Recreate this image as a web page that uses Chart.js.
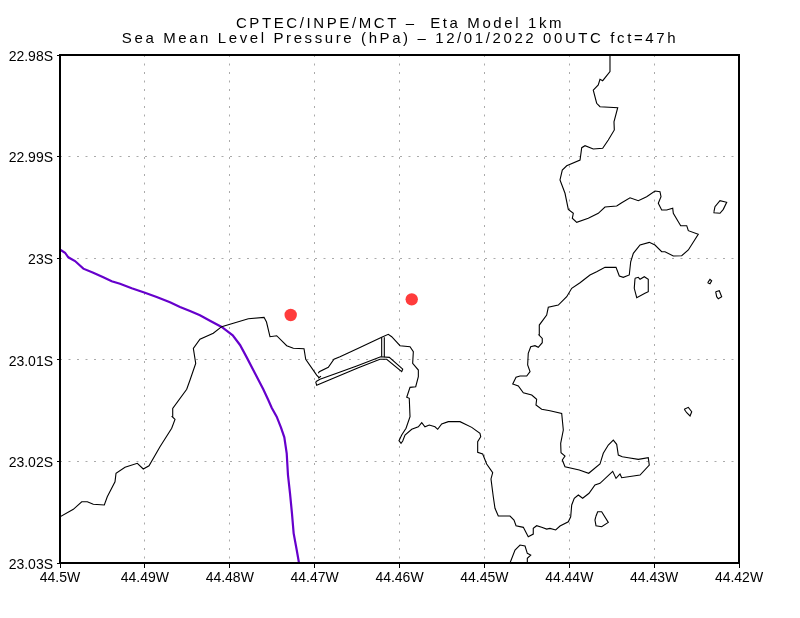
<!DOCTYPE html>
<html>
<head>
<meta charset="utf-8">
<style>
  html, body { margin: 0; padding: 0; background: #fff; }
  canvas { display: block; }
</style>
<script src="https://cdn.jsdelivr.net/npm/chart.js@4"></script>
</head>
<body>
<canvas id="mapa" width="800" height="618"></canvas>
<script>
const tituloLineas = ['CPTEC/INPE/MCT \u2013  Eta Model 1km', 'Sea Mean Level Pressure (hPa) \u2013 12/01/2022 00UTC fct=47h'];

const lonTicks = [-44.5, -44.49, -44.48, -44.47, -44.46, -44.45, -44.44, -44.43, -44.42];
const lonLabels = ['44.5W', '44.49W', '44.48W', '44.47W', '44.46W', '44.45W', '44.44W', '44.43W', '44.42W'];
const latTicks = [22.98, 22.99, 23, 23.01, 23.02, 23.03];
const latLabels = ['22.98S', '22.99S', '23S', '23.01S', '23.02S', '23.03S'];

// [lon, lat]
const estaciones = [[-44.47282, 23.00559], [-44.45856, 23.00405]];

const isobara = [
  [-44.49992, 22.99919], [-44.49941, 22.99946], [-44.49902, 22.99991], [-44.49823, 23.00028], [-44.49725, 23.00103],
  [-44.49608, 23.00143], [-44.4949, 23.00188], [-44.49391, 23.00227], [-44.49293, 23.00251], [-44.49155, 23.00296],
  [-44.48999, 23.0034], [-44.48861, 23.00382], [-44.48704, 23.00434], [-44.48586, 23.0048], [-44.48468, 23.0052],
  [-44.48351, 23.00562], [-44.48233, 23.00615], [-44.48095, 23.00677], [-44.47965, 23.00759], [-44.47879, 23.00854],
  [-44.478, 23.00976], [-44.47703, 23.01133], [-44.47605, 23.0129], [-44.47546, 23.01396], [-44.47506, 23.01472],
  [-44.47447, 23.0156], [-44.47396, 23.01668], [-44.47357, 23.01763], [-44.47329, 23.0192], [-44.47314, 23.02134],
  [-44.4729, 23.02314], [-44.47267, 23.02511], [-44.47247, 23.02708], [-44.47211, 23.02872], [-44.47184, 23.03]
];

const costaOeste = [
  [-44.5, 23.02545], [-44.49843, 23.02472], [-44.49744, 23.02397], [-44.49678, 23.02397], [-44.49608, 23.02422],
  [-44.49478, 23.02429], [-44.49443, 23.02348], [-44.49352, 23.022], [-44.4934, 23.02117], [-44.49234, 23.02058],
  [-44.49089, 23.02019], [-44.49019, 23.02075], [-44.48951, 23.02043], [-44.48822, 23.01855], [-44.48684, 23.01674],
  [-44.48645, 23.01586], [-44.48677, 23.0156], [-44.48672, 23.01478], [-44.48507, 23.0129], [-44.48468, 23.01199],
  [-44.48401, 23.01035], [-44.48429, 23.00887], [-44.48351, 23.00798], [-44.48194, 23.00739], [-44.48095, 23.00674],
  [-44.47958, 23.00641], [-44.47781, 23.00596], [-44.47596, 23.00582], [-44.47567, 23.00628], [-44.47526, 23.00773],
  [-44.47447, 23.00763], [-44.47329, 23.00861], [-44.47251, 23.00887], [-44.47125, 23.00891], [-44.47105, 23.00995],
  [-44.46976, 23.0115], [-44.46945, 23.01179]
];

const costaBahia = [
  [-44.46957, 23.01133], [-44.46945, 23.01117], [-44.46839, 23.01074], [-44.46772, 23.00995], [-44.46701, 23.0097],
  [-44.46485, 23.00887], [-44.4621, 23.00779], [-44.46132, 23.00749], [-44.46092, 23.00773], [-44.45994, 23.00861],
  [-44.45876, 23.00871], [-44.45837, 23.0092], [-44.45845, 23.01035], [-44.45778, 23.01101], [-44.45778, 23.01166],
  [-44.45809, 23.01265], [-44.45876, 23.01271], [-44.45915, 23.01369], [-44.45885, 23.01379], [-44.45876, 23.0156],
  [-44.45923, 23.01674], [-44.45974, 23.0174], [-44.46006, 23.01796], [-44.45982, 23.01822], [-44.45962, 23.01799],
  [-44.45935, 23.0174], [-44.45856, 23.01684], [-44.45778, 23.01659], [-44.45738, 23.01619], [-44.457, 23.01659],
  [-44.45649, 23.01642], [-44.45582, 23.01659], [-44.4555, 23.01684], [-44.45503, 23.01632], [-44.45425, 23.01609],
  [-44.45287, 23.01609], [-44.45149, 23.01665], [-44.45052, 23.01724], [-44.45043, 23.01757], [-44.45079, 23.01806],
  [-44.45079, 23.01911], [-44.4502, 23.01927], [-44.44973, 23.02026], [-44.44902, 23.02111], [-44.44922, 23.02173],
  [-44.44895, 23.02348], [-44.44875, 23.02462], [-44.44836, 23.02538], [-44.44698, 23.02538], [-44.44651, 23.02577],
  [-44.44627, 23.02633], [-44.44541, 23.02649], [-44.44483, 23.02741], [-44.44424, 23.02715], [-44.44424, 23.02659],
  [-44.44384, 23.02633], [-44.44325, 23.02649], [-44.44266, 23.02666], [-44.44227, 23.02659], [-44.4416, 23.02675],
  [-44.44109, 23.02636], [-44.44011, 23.02594], [-44.43983, 23.02545], [-44.43971, 23.02429], [-44.43941, 23.02363],
  [-44.43893, 23.02331], [-44.43842, 23.02363], [-44.43767, 23.02314], [-44.43697, 23.02232], [-44.43638, 23.02216],
  [-44.43488, 23.02098], [-44.43449, 23.02167], [-44.43402, 23.02124], [-44.43382, 23.02161], [-44.43166, 23.02134],
  [-44.43057, 23.02036], [-44.43069, 23.01964], [-44.43186, 23.0198], [-44.43304, 23.01964], [-44.43375, 23.01954],
  [-44.43422, 23.01937], [-44.43441, 23.01832], [-44.43481, 23.0179], [-44.4354, 23.01839], [-44.43599, 23.0192],
  [-44.43638, 23.02026], [-44.43771, 23.02117], [-44.43882, 23.02085], [-44.4405, 23.02052], [-44.44082, 23.01986],
  [-44.4405, 23.01947], [-44.44097, 23.01915], [-44.44101, 23.01822], [-44.4407, 23.01691], [-44.44089, 23.01527],
  [-44.44227, 23.01501], [-44.44325, 23.01487], [-44.44392, 23.01445], [-44.44384, 23.01389], [-44.44442, 23.01347],
  [-44.44541, 23.01324], [-44.446, 23.01258], [-44.44666, 23.01238], [-44.44627, 23.01172], [-44.4458, 23.0116],
  [-44.44501, 23.0116], [-44.44462, 23.01117], [-44.4449, 23.01051], [-44.44483, 23.00936], [-44.44454, 23.00871],
  [-44.44404, 23.00861], [-44.44365, 23.00877], [-44.44318, 23.00832], [-44.44318, 23.00789], [-44.44356, 23.00756],
  [-44.44353, 23.00658], [-44.44266, 23.00559], [-44.44247, 23.00483], [-44.44129, 23.00461], [-44.4403, 23.00379],
  [-44.43971, 23.00296], [-44.43873, 23.00241], [-44.43756, 23.00165], [-44.43677, 23.00133], [-44.43579, 23.0009],
  [-44.43449, 23.0009], [-44.4341, 23.00175], [-44.43363, 23.00188], [-44.43293, 23.00165], [-44.43276, 23.00035],
  [-44.43245, 22.99952], [-44.43166, 22.9987], [-44.43057, 22.99844], [-44.4299, 22.9987], [-44.42911, 22.99936],
  [-44.42872, 22.99936], [-44.42774, 22.99978], [-44.42675, 22.99976], [-44.42597, 22.99919], [-44.4248, 22.99765],
  [-44.42597, 22.99729], [-44.42616, 22.9968], [-44.42687, 22.9968], [-44.42774, 22.99558], [-44.42781, 22.99509],
  [-44.42852, 22.99526], [-44.42911, 22.99526], [-44.42951, 22.9946], [-44.42919, 22.99395], [-44.42931, 22.99346],
  [-44.4299, 22.99339], [-44.43088, 22.99395], [-44.43186, 22.99434], [-44.43284, 22.99405], [-44.43382, 22.99454],
  [-44.43441, 22.99486], [-44.43579, 22.99496], [-44.43658, 22.99558], [-44.43776, 22.99607], [-44.43912, 22.99647],
  [-44.43964, 22.99607], [-44.43952, 22.99558], [-44.44011, 22.99519], [-44.4405, 22.99361], [-44.44109, 22.9923],
  [-44.44082, 22.99132], [-44.4403, 22.9909], [-44.43873, 22.99034], [-44.43853, 22.98912], [-44.43814, 22.98893],
  [-44.43717, 22.98925], [-44.43606, 22.98918], [-44.4354, 22.98837], [-44.43469, 22.98738], [-44.43473, 22.98657],
  [-44.43429, 22.98519], [-44.43638, 22.98509], [-44.43677, 22.98475], [-44.43717, 22.98345], [-44.43658, 22.98295],
  [-44.43638, 22.98239], [-44.43606, 22.98253], [-44.4352, 22.98164], [-44.4352, 22.98]
];

const muelle = [
  [-44.46987, 23.01216], [-44.46976, 23.01251], [-44.46485, 23.01078], [-44.4623, 23.00995], [-44.46151, 23.00995],
  [-44.45974, 23.01117], [-44.45962, 23.01091], [-44.4612, 23.00976], [-44.46222, 23.0097], [-44.46504, 23.01061],
  [-44.4674, 23.01133], [-44.46937, 23.01192], [-44.46987, 23.01216]
];
const muelleEnlace = [[-44.46957, 23.01182], [-44.46925, 23.0116]];
const canalOeste = [[-44.4621, 23.00779], [-44.4621, 23.0097]];
const canalEste = [[-44.46179, 23.00779], [-44.46179, 23.00976]];

const islaA = [[-44.42295, 22.99542], [-44.42283, 22.99493], [-44.42224, 22.99434], [-44.42145, 22.9945], [-44.42185, 22.99519], [-44.42224, 22.99558], [-44.42295, 22.99552], [-44.42295, 22.99542]];
const islaB = [[-44.43225, 23.00198], [-44.43186, 23.00188], [-44.43166, 23.00208], [-44.43116, 23.00182], [-44.43069, 23.00208], [-44.43069, 23.0033], [-44.43108, 23.00346], [-44.43205, 23.00389], [-44.43234, 23.00296], [-44.43225, 23.00198]];
const islaC = [[-44.42369, 23.00241], [-44.42342, 23.00208], [-44.42322, 23.00222], [-44.42342, 23.00251], [-44.42369, 23.00241]];
const islaD = [[-44.42275, 23.0033], [-44.42232, 23.0032], [-44.42204, 23.00379], [-44.42244, 23.00399], [-44.42263, 23.00379], [-44.42275, 23.0033]];
const islaE = [[-44.42645, 23.01487], [-44.42597, 23.01468], [-44.42557, 23.01511], [-44.42577, 23.01553], [-44.42616, 23.01521], [-44.42645, 23.01487]];
const islaF = [[-44.43688, 23.02545], [-44.43665, 23.02495], [-44.43618, 23.02495], [-44.4354, 23.026], [-44.43618, 23.02643], [-44.43685, 23.02633], [-44.43697, 23.02577], [-44.43688, 23.02545]];
const islaG = [[-44.44698, 23.03], [-44.44639, 23.02872], [-44.4458, 23.02823], [-44.44521, 23.02833], [-44.44494, 23.02905], [-44.44454, 23.02922], [-44.44494, 23.02954], [-44.44494, 23.03]];

const lineasCosta = [costaOeste, costaBahia, muelle, muelleEnlace, canalOeste, canalEste, islaA, islaB, islaC, islaD, islaE, islaF, islaG];

const aPuntos = lista => lista.map(p => ({ x: p[0], y: p[1] }));

const datasets = lineasCosta.map(linea => ({
  data: aPuntos(linea),
  showLine: true,
  borderColor: '#000',
  borderWidth: 1.1,
  pointRadius: 0,
  tension: 0
}));
datasets.push({
  data: aPuntos(isobara),
  showLine: true,
  borderColor: '#6600cc',
  borderWidth: 2.2,
  pointRadius: 0,
  tension: 0
});
datasets.push({
  data: aPuntos(estaciones),
  showLine: false,
  backgroundColor: '#ff3c3c',
  borderWidth: 0,
  pointRadius: 6.2
});

const marco = {
  id: 'marco',
  beforeDraw(chart) {
    chart.ctx.letterSpacing = '2.6px';
  },
  afterDatasetsDraw(chart) {
    chart.ctx.letterSpacing = '0px';
  },
  afterDraw(chart) {
    const { ctx, chartArea } = chart;
    ctx.save();
    ctx.strokeStyle = '#000';
    ctx.lineWidth = 2;
    ctx.strokeRect(chartArea.left, chartArea.top, chartArea.right - chartArea.left, chartArea.bottom - chartArea.top);
    ctx.restore();
  }
};

const fuente = { family: '"Liberation Sans"', size: 14, weight: 'normal' };

new Chart(document.getElementById('mapa').getContext('2d'), {
  type: 'scatter',
  data: { datasets: datasets },
  plugins: [marco],
  options: {
    responsive: false,
    animation: false,
    devicePixelRatio: 1,
    layout: { padding: 0 },
    plugins: {
      legend: { display: false },
      tooltip: { enabled: false },
      title: {
        display: true,
        text: tituloLineas,
        color: '#000',
        font: { family: '"Liberation Sans"', size: 15, weight: 'normal', lineHeight: 1 },
        padding: { top: 16, bottom: 9 }
      }
    },
    scales: {
      x: {
        type: 'linear',
        min: -44.5,
        max: -44.42,
        afterBuildTicks: s => { s.ticks = lonTicks.map(v => ({ value: v })); },
        afterFit: s => { s.height = 55; s.paddingLeft = 0; s.paddingRight = 61; },
        grid: { color: '#aaaaaa', lineWidth: 1, tickBorderDash: [], tickColor: '#000', tickWidth: 1, tickLength: 5 },
        border: { display: false, dash: [2, 6.5] },
        ticks: { z: 1, color: '#000', font: fuente, padding: 2, autoSkip: false, maxRotation: 0, minRotation: 0, callback: (v, i) => lonLabels[i] }
      },
      y: {
        type: 'linear',
        reverse: true,
        min: 22.98,
        max: 23.03,
        afterBuildTicks: s => { s.ticks = latTicks.map(v => ({ value: v })); },
        afterFit: s => { s.width = 60; s.paddingTop = 0; s.paddingBottom = 0; },
        grid: { color: '#aaaaaa', lineWidth: 1, tickBorderDash: [], tickColor: '#000', tickWidth: 1, tickLength: 3 },
        border: { display: false, dash: [2, 6.5] },
        ticks: { z: 1, color: '#000', font: fuente, padding: 4, labelOffset: 2, autoSkip: false, callback: (v, i) => latLabels[i] }
      }
    }
  }
});
</script>
</body>
</html>
